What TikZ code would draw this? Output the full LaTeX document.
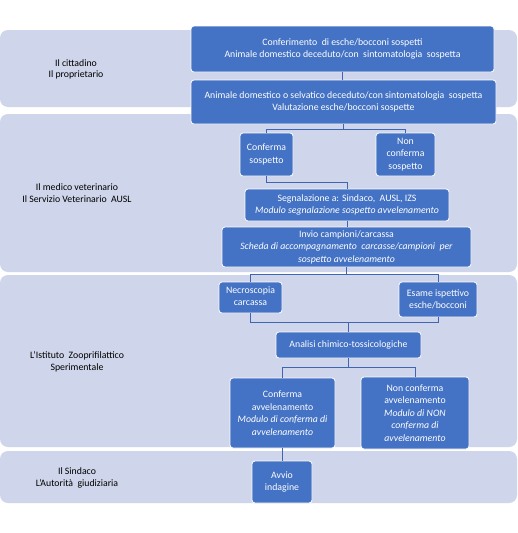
\documentclass[tikz,border=0pt]{standalone}
\usepackage{fontspec}
\setmainfont{Carlito}
\usetikzlibrary{calc}
\definecolor{lane}{HTML}{CFD5EA}
\definecolor{boxblue}{HTML}{4472C4}
\definecolor{linkblue}{HTML}{3F66B2}
\tikzset{
  lanebox/.style={fill=lane, draw=none, rounded corners=8pt},
  lanelabel/.style={align=center, text=black, font=\fontsize{9.8}{11.5}\selectfont, inner sep=0pt},
  flowbox/.style={fill=boxblue, draw=white, line width=0.8pt, rounded corners=3pt, text=white,
    align=center, inner sep=0pt, font=\fontsize{9.8}{12.5}\selectfont},
  link/.style={draw=linkblue, line width=0.9pt}
}
\begin{document}
\begin{tikzpicture}[x=1pt, y=-1pt]
\useasboundingbox (0,0) rectangle (518,533);
\fill[white] (0,0) rectangle (518,533);
% lanes
\path[lanebox] (0,30) rectangle (517,107);
\path[lanebox] (0,114) rectangle (517,272);
\path[lanebox] (0,275) rectangle (517,447);
\path[lanebox] (0,451) rectangle (517,503);
\node[lanelabel] (l1) at (76,69.5) {Il cittadino\\Il proprietario};
\node[lanelabel] (l2) at (77,193) {Il medico veterinario\\Il Servizio Veterinario \ AUSL};
\node[lanelabel] (l3) at (77,362) {L'Istituto \ Zooprifilattico\\Sperimentale};
\node[lanelabel] (l4) at (77,478) {Il Sindaco\\L'Autorità \ giudiziaria};
% boxes
\node[flowbox, minimum width=303pt, minimum height=46pt] (A) at (342.5,49) {Conferimento \ di esche/bocconi sospetti\\Animale domestico deceduto/con \ sintomatologia \ sospetta};
\node[flowbox, minimum width=305pt, minimum height=44pt] (B) at (343.5,102) {Animale domestico o selvatico deceduto/con sintomatologia \ sospetta\\Valutazione esche/bocconi sospette};
\node[flowbox, minimum width=53pt, minimum height=43pt] (confS) at (266.5,154.5) {Conferma\\sospetto};
\node[flowbox, minimum width=59pt, minimum height=43pt] (nonS) at (405.5,154.5) {Non\\conferma\\sospetto};
\node[flowbox, minimum width=204pt, minimum height=32pt] (seg) at (347,205) {Segnalazione a: Sindaco, \ AUSL, IZS\\\textit{Modulo segnalazione sospetto avvelenamento}};
\node[flowbox, minimum width=249pt, minimum height=40pt] (invio) at (346.5,247) {Invio campioni/carcassa\\\textit{Scheda di accompagnamento \ carcasse/campioni \ per}\\\textit{sospetto avvelenamento}};
\node[flowbox, minimum width=63pt, minimum height=31pt, text depth=3pt] (necro) at (250.5,297.5) {Necroscopia\\carcassa};
\node[flowbox, minimum width=78pt, minimum height=35pt] (esame) at (438,299.5) {Esame ispettivo\\esche/bocconi};
\node[flowbox, minimum width=145pt, minimum height=26pt] (analisi) at (348.5,345) {Analisi chimico-tossicologiche};
\node[flowbox, minimum width=105pt, minimum height=70pt] (confA) at (282.5,413) {Conferma\\avvelenamento\\\textit{Modulo di conferma di}\\\textit{avvelenamento}};
\node[flowbox, minimum width=108pt, minimum height=72pt] (nonA) at (415,413) {Non conferma\\avvelenamento\\\textit{Modulo di NON}\\\textit{conferma di}\\\textit{avvelenamento}};
\node[flowbox, minimum width=60pt, minimum height=42pt] (avvio) at (282,482) {Avvio\\indagine};
% junction levels
\coordinate (j1) at (0,129);
\coordinate (j2) at (0,182);
\coordinate (j3) at (0,274);
\coordinate (j4) at (0,322);
\coordinate (j5) at (0,367);
% connectors
\draw[link] (A.south) -- (A.south |- B.north);
\draw[link] (B.south) -- (B.south |- j1) -| (confS.north);
\draw[link] (B.south |- j1) -| (nonS.north);
\draw[link] (confS.south) -- (confS.south |- j2) -| (seg.north);
\draw[link] (seg.south) -- (seg.south |- invio.north);
\draw[link] (invio.south) -- (invio.south |- j3) -| (necro.north);
\draw[link] (invio.south |- j3) -| (esame.north);
\draw[link] (necro.south) -- (necro.south |- j4) -| (analisi.north);
\draw[link] (esame.south) -- (esame.south |- j4) -| (analisi.north);
\draw[link] (analisi.south) -- (analisi.south |- j5) -| (confA.north);
\draw[link] (analisi.south |- j5) -| (nonA.north);
\draw[link] (confA.south) -- (confA.south |- avvio.north);
\end{tikzpicture}
\end{document}
